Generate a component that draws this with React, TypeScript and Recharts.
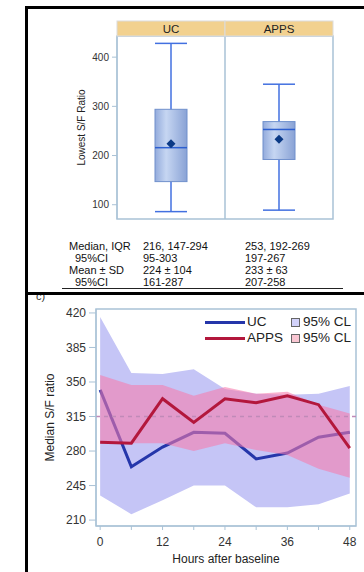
import {
  ComposedChart,
  Bar,
  Line,
  Area,
  XAxis,
  YAxis,
  ReferenceArea,
  ReferenceLine,
  Legend,
} from "recharts"

// top panel: lowest S/F ratio box plots
const GROUPS = ["UC", "APPS"]
const GROUP_POS = [0.5, 1.5]
const WHISKER_LOW = [86, 89]
const Q1 = [147, 192]
const MEDIAN = [216, 253]
const Q3 = [294, 269]
const WHISKER_HIGH = [428, 345]
const MEAN = [224, 233]
const BOX_TICKS = [100, 200, 300, 400]

const STAT_LABELS = ["Median, IQR", "95%CI", "Mean ± SD", "95%CI"]
const UC_STATS = ["216, 147-294", "95-303", "224 ± 104", "161-287"]
const APPS_STATS = ["253, 192-269", "197-267", "233 ± 63", "207-258"]

// bottom panel: median S/F ratio over time
const HOURS = [0, 6, 12, 18, 24, 30, 36, 42, 48]
const UC_MEDIAN = [342, 264, 284, 299, 298, 272, 278, 294, 299]
const APPS_MEDIAN = [289, 288, 333, 309, 333, 329, 336, 327, 283]
const UC_LOW = [235, 216, 230, 245, 245, 223, 223, 226, 237]
const UC_HIGH = [416, 359, 358, 363, 343, 338, 337, 338, 346]
const APPS_LOW = [288, 288, 288, 280, 288, 281, 276, 262, 253]
const APPS_HIGH = [357, 347, 347, 336, 345, 338, 340, 327, 318]
const BASELINE = 315
const LINE_Y_TICKS = [210, 245, 280, 315, 350, 385, 420]
const LINE_X_TICKS = [0, 6, 12, 18, 24, 30, 36, 42, 48]

const boxData = GROUPS.map((g, i) => ({
  name: g,
  pos: GROUP_POS[i],
  range: [WHISKER_LOW[i], WHISKER_HIGH[i]],
  q1: Q1[i],
  median: MEDIAN[i],
  q3: Q3[i],
  mean: MEAN[i],
}))

const lineData = HOURS.map((h, i) => ({
  hour: h,
  uc: UC_MEDIAN[i],
  apps: APPS_MEDIAN[i],
  ucBand: [UC_LOW[i], UC_HIGH[i]],
  appsBand: [APPS_LOW[i], APPS_HIGH[i]],
}))

const FRAME = "#a9c2d6"
const UC_COLOR = "#2536aa"
const APPS_COLOR = "#b3173c"

function BoxShape(props: any) {
  const { x, y, width, height, payload } = props
  const [lo, hi] = payload.range
  const top = Math.min(y, y + height)
  const h = Math.abs(height)
  const toY = (v: number) => top + ((hi - v) / (hi - lo)) * h
  const cx = x + width / 2
  const yq3 = toY(payload.q3)
  const yq1 = toY(payload.q1)
  const ym = toY(payload.mean)
  return (
    <g>
      <line x1={cx} x2={cx} y1={top} y2={top + h} stroke="#4270e0" strokeWidth={1.5} />
      <line x1={x} x2={x + width} y1={top} y2={top} stroke="#4270e0" strokeWidth={1.5} />
      <line x1={x} x2={x + width} y1={top + h} y2={top + h} stroke="#4270e0" strokeWidth={1.5} />
      <rect x={x} y={yq3} width={width} height={yq1 - yq3} fill="url(#boxFill)" stroke="#7090cc" strokeWidth={1} />
      <line x1={x} x2={x + width} y1={toY(payload.median)} y2={toY(payload.median)} stroke="#2c5fd0" strokeWidth={1.5} />
      <polygon
        points={`${cx},${ym - 4.5} ${cx + 4.5},${ym} ${cx},${ym + 4.5} ${cx - 4.5},${ym}`}
        fill="#0b3a85"
      />
    </g>
  )
}

function StripTick({ x, y, payload }: any) {
  const label = GROUPS[GROUP_POS.indexOf(payload.value)]
  return (
    <g>
      <rect x={x - 54} y={y - 15} width={108} height={15} fill="#f2d18f" stroke="#dcdcdc" />
      <text x={x} y={y - 3.5} textAnchor="middle" fontSize={11.5} fill="#222">
        {label}
      </text>
    </g>
  )
}

function BandLegend() {
  const rows = [
    { name: "UC", line: UC_COLOR, box: "#d2d2fa" },
    { name: "APPS", line: APPS_COLOR, box: "#f9c6d2" },
  ]
  return (
    <div style={{ fontSize: 13.5, color: "#222", lineHeight: "16px" }}>
      {rows.map((r) => (
        <div key={r.name} style={{ display: "flex", alignItems: "center", width: 146 }}>
          <span style={{ width: 40, height: 3, background: r.line, marginRight: 2 }} />
          <span>{r.name}</span>
          <span style={{ flex: 1 }} />
          <span style={{ width: 7, height: 7, border: "1px solid #666", background: r.box, marginRight: 3 }} />
          <span>95% CL</span>
        </div>
      ))}
    </div>
  )
}

export default function App() {
  return (
    <div
      style={{
        position: "absolute",
        left: 0,
        top: 0,
        width: 364,
        height: 572,
        background: "#fff",
        fontFamily: "'Liberation Sans', Arial, sans-serif",
        overflow: "hidden",
      }}
    >
      {/* top panel */}
      <div style={{ position: "absolute", left: 0, top: 0 }}>
        <ComposedChart width={364} height={230} data={boxData} margin={{ top: 21, right: 31, bottom: 11, left: 0 }}>
          <defs>
            <linearGradient id="boxFill" x1="0" x2="1" y1="0" y2="0">
              <stop offset="0%" stopColor="#93abdc" />
              <stop offset="35%" stopColor="#c6d6f2" />
              <stop offset="100%" stopColor="#89a2d5" />
            </linearGradient>
          </defs>
          <XAxis
            dataKey="pos"
            type="number"
            orientation="top"
            domain={[0, 2]}
            ticks={GROUP_POS}
            interval={0}
            height={15}
            tickSize={0}
            tickMargin={0}
            axisLine={false}
            tick={<StripTick />}
          />
          <YAxis
            type="number"
            domain={[71, 443]}
            ticks={BOX_TICKS}
            width={117}
            tickSize={5}
            tickMargin={3}
            tick={{ fontSize: 10, fill: "#333" }}
            tickLine={{ stroke: FRAME }}
            axisLine={{ stroke: FRAME }}
            label={{ value: "Lowest S/F Ratio", angle: -90, position: "center", dx: 23, fontSize: 10, fill: "#222" }}
          />
          <ReferenceArea x1={0} x2={2} y1={71} y2={443} fill="none" stroke={FRAME} strokeWidth={1.5} />
          <ReferenceLine x={1} stroke={FRAME} strokeWidth={1.5} />
          <Bar dataKey="range" barSize={32} shape={<BoxShape />} isAnimationActive={false} />
        </ComposedChart>
      </div>

      {/* summary table */}
      {STAT_LABELS.map((lab, i) => (
        <div key={i} style={{ position: "absolute", top: 240 + i * 12, fontSize: 11, lineHeight: "12px", color: "#111", width: 364 }}>
          <span style={{ position: "absolute", left: i % 2 ? 75 : 69 }}>{lab}</span>
          <span style={{ position: "absolute", left: 143 }}>{UC_STATS[i]}</span>
          <span style={{ position: "absolute", left: 245 }}>{APPS_STATS[i]}</span>
        </div>
      ))}
      <div style={{ position: "absolute", left: 62, top: 288, width: 281, height: 1, background: "#222" }} />

      <div style={{ position: "absolute", left: 36, top: 290, fontSize: 11, color: "#333" }}>c)</div>

      {/* bottom panel */}
      <div style={{ position: "absolute", left: 0, top: 295 }}>
        <ComposedChart width={364} height={277} data={lineData} margin={{ top: 14, right: 8, bottom: 6, left: 0 }}>
          <XAxis
            dataKey="hour"
            type="number"
            domain={[-0.8, 49.2]}
            ticks={LINE_X_TICKS}
            interval={0}
            height={40}
            tickSize={4}
            tickMargin={7}
            tickFormatter={(v: number) => (v % 12 === 0 ? String(v) : "")}
            tick={{ fontSize: 12, fill: "#333" }}
            tickLine={{ stroke: FRAME }}
            axisLine={{ stroke: FRAME }}
            label={{ value: "Hours after baseline", position: "insideBottom", offset: 3, fontSize: 12, fill: "#222" }}
          />
          <YAxis
            type="number"
            domain={[204, 424]}
            ticks={LINE_Y_TICKS}
            width={96}
            tickSize={7}
            tickMargin={3}
            tick={{ fontSize: 12, fill: "#333" }}
            tickLine={{ stroke: FRAME }}
            axisLine={{ stroke: FRAME }}
            label={{ value: "Median S/F ratio", angle: -90, position: "center", dx: 2, fontSize: 12, fill: "#222" }}
          />
          <Area dataKey="ucBand" type="linear" stroke="none" fill="#c5c5f6" fillOpacity={1} isAnimationActive={false} zIndex={100} />
          <Line dataKey="uc" type="linear" stroke={UC_COLOR} strokeWidth={3} dot={false} isAnimationActive={false} zIndex={110} />
          <Area dataKey="appsBand" type="linear" stroke="none" fill="#f77aac" fillOpacity={0.58} isAnimationActive={false} zIndex={120} />
          <ReferenceLine y={BASELINE} stroke="#c08ab8" strokeWidth={1.5} strokeDasharray="4 4" zIndex={130} />
          <Line dataKey="apps" type="linear" stroke={APPS_COLOR} strokeWidth={3} dot={false} isAnimationActive={false} zIndex={140} />
          <ReferenceArea x1={-0.8} x2={49.2} y1={204} y2={424} fill="none" stroke={FRAME} strokeWidth={1.5} />
          <Legend
            layout="vertical"
            align="center"
            verticalAlign="middle"
            content={<BandLegend />}
            wrapperStyle={{ top: 19, left: 205, width: 150 }}
          />
        </ComposedChart>
      </div>

      {/* panel frame */}
      <div style={{ position: "absolute", left: 25, top: 6, width: 339, height: 3, background: "#000" }} />
      <div style={{ position: "absolute", left: 25, top: 292, width: 339, height: 3, background: "#000" }} />
      <div style={{ position: "absolute", left: 25, top: 6, width: 3, height: 566, background: "#000" }} />
    </div>
  )
}
